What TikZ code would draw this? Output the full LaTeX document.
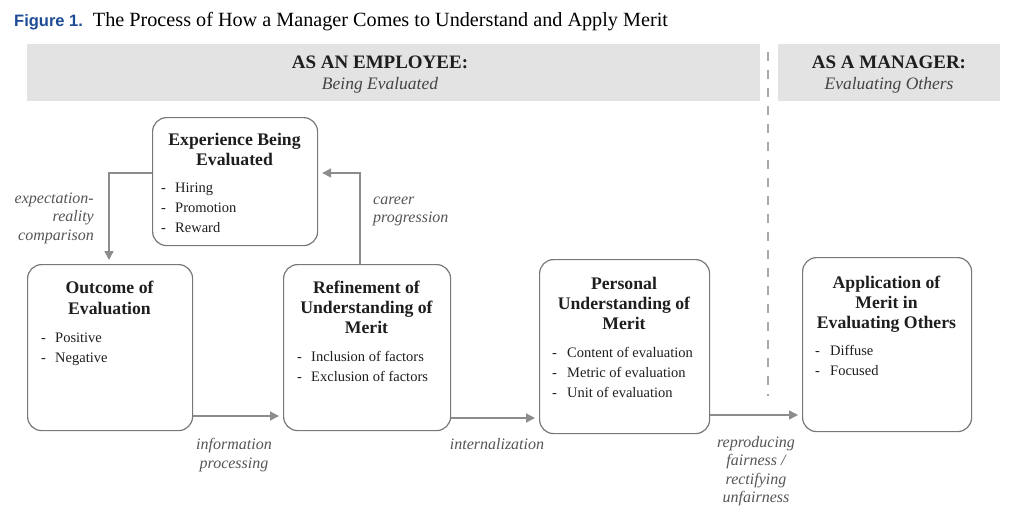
\documentclass[tikz,border=0pt]{standalone}
\usepackage{fontspec}
\setmainfont{Liberation Serif}
\newfontfamily\figsans{Liberation Sans}
\usetikzlibrary{arrows.meta}
\definecolor{figblue}{RGB}{30,75,150}
\definecolor{bandgray}{RGB}{227,227,227}
\definecolor{boxline}{RGB}{120,120,120}
\definecolor{arrowgray}{RGB}{140,140,140}
\definecolor{labelgray}{RGB}{85,85,85}
\definecolor{textdark}{RGB}{30,30,30}
\tikzset{
  x=1pt, y=-1pt,
  band/.style={fill=bandgray, draw=none},
  procbox/.style={draw=boxline, line width=1.2pt, rounded corners=14pt, anchor=north west, inner sep=0pt},
  boxtitle/.style={font=\bfseries\fontsize{17.7}{20.5}\selectfont, text=textdark, anchor=base, inner sep=0pt},
  item/.style={font=\fontsize{14.5}{20}\selectfont, text=textdark, anchor=base west, inner sep=0pt},
  dashitem/.style={font=\fontsize{14.5}{20}\selectfont, text=textdark, anchor=base west, inner sep=0pt},
  lbl/.style={font=\itshape\fontsize{16}{18.5}\selectfont, text=labelgray, inner sep=0pt},
  flow/.style={draw=arrowgray, line width=1.4pt, -{Triangle[length=9pt,width=9pt]}, shorten >=4pt},
  headbig/.style={font=\bfseries\fontsize{19}{20}\selectfont, text=textdark, anchor=base, inner sep=0pt},
  headsub/.style={font=\itshape\fontsize{17.5}{20}\selectfont, text=labelgray!80!black, anchor=base, inner sep=0pt},
}
\begin{document}
\begin{tikzpicture}
\useasboundingbox (0,0) rectangle (1012,522);
% title
\node[anchor=base west, inner sep=0pt] (title) at (14,27)
  {{\figsans\bfseries\fontsize{16.5}{18}\selectfont\color{figblue}Figure 1.}\hspace{10pt}{\fontsize{20.2}{22}\selectfont The Process of How a Manager Comes to Understand and Apply Merit}};
% bands
\fill[band] (27,44) rectangle (760,101);
\fill[band] (778,44) rectangle (1000,101);
\node[headbig] (h1) at (380,68) {AS AN EMPLOYEE:};
\node[headsub] (h1s) at (380,89) {Being Evaluated};
\node[headbig] (h2) at (889,68) {AS A MANAGER:};
\node[headsub] (h2s) at (889,89) {Evaluating Others};
% dashed divider
\coordinate (dtop) at (768,52);
\coordinate (dbot) at (768,396);
\draw[draw=arrowgray!75, line width=2.4pt, dash pattern=on 9pt off 9pt] (dtop) -- (dbot);
% boxes
\node[procbox, minimum width=165pt, minimum height=128pt] (exp) at (152,117) {};
\node[procbox, minimum width=165pt, minimum height=166pt] (out) at (27,264) {};
\node[procbox, minimum width=167pt, minimum height=166pt] (ref) at (283,264) {};
\node[procbox, minimum width=170pt, minimum height=174pt] (per) at (539,259) {};
\node[procbox, minimum width=169pt, minimum height=174pt] (app) at (802,257) {};
% Experience
\node[boxtitle] (expt1) at (234.5,145) {Experience Being};
\node[boxtitle] (expt2) at (234.5,165) {Evaluated};
\foreach \t [count=\i] in {Hiring,Promotion,Reward}{
  \node[dashitem] (expd\i) at (161,172+20*\i) {-};
  \node[item] (expi\i) at (175,172+20*\i) {\t};
}
% Outcome
\node[boxtitle] (outt1) at (109.5,293) {Outcome of};
\node[boxtitle] (outt2) at (109.5,314) {Evaluation};
\foreach \t [count=\i] in {Positive,Negative}{
  \node[dashitem] (outd\i) at (41,322+20*\i) {-};
  \node[item] (outi\i) at (55,322+20*\i) {\t};
}
% Refinement
\node[boxtitle] (reft1) at (366.5,293) {Refinement of};
\node[boxtitle] (reft2) at (366.5,313) {Understanding of};
\node[boxtitle] (reft3) at (366.5,333) {Merit};
\foreach \t [count=\i] in {Inclusion of factors,Exclusion of factors}{
  \node[dashitem] (refd\i) at (297,341+20*\i) {-};
  \node[item] (refi\i) at (311,341+20*\i) {\t};
}
% Personal
\node[boxtitle] (pert1) at (624,289) {Personal};
\node[boxtitle] (pert2) at (624,309) {Understanding of};
\node[boxtitle] (pert3) at (624,329) {Merit};
\foreach \t [count=\i] in {Content of evaluation,Metric of evaluation,Unit of evaluation}{
  \node[dashitem] (perd\i) at (552,337+20*\i) {-};
  \node[item] (peri\i) at (567,337+20*\i) {\t};
}
% Application
\node[boxtitle] (appt1) at (886.5,288) {Application of};
\node[boxtitle] (appt2) at (886.5,308) {Merit in};
\node[boxtitle] (appt3) at (886.5,328) {Evaluating Others};
\foreach \t [count=\i] in {Diffuse,Focused}{
  \node[dashitem] (appd\i) at (815,336+19.5*\i) {-};
  \node[item] (appi\i) at (830,336+19.5*\i) {\t};
}
% connectors
\coordinate (c1) at (109,173);
\coordinate (c2) at (360,173);
\draw[flow] (exp.west |- c1) -- (c1) -- (c1 |- out.north);
\draw[flow] (c2 |- ref.north) -- (c2) -- (exp.east |- c2);
\coordinate (r1) at (0,416);
\coordinate (r2) at (0,418);
\coordinate (r3) at (0,415);
\draw[flow] (out.east |- r1) -- (ref.west |- r1);
\draw[flow] (ref.east |- r2) -- (per.west |- r2);
\draw[flow] (per.east |- r3) -- (app.west |- r3);
% labels
\node[lbl, anchor=base east] (l1a) at (94,203) {expectation-};
\node[lbl, anchor=base east] (l1b) at (94,221) {reality};
\node[lbl, anchor=base east] (l1c) at (94,240) {comparison};
\node[lbl, anchor=base west] (l2a) at (373,204) {career};
\node[lbl, anchor=base west] (l2b) at (373,222) {progression};
\node[lbl, anchor=base] (l3a) at (234,449) {information};
\node[lbl, anchor=base] (l3b) at (234,468) {processing};
\node[lbl, anchor=base] (l4) at (497,449) {internalization};
\node[lbl, anchor=base] (l5a) at (756,447) {reproducing};
\node[lbl, anchor=base] (l5b) at (756,465) {fairness /};
\node[lbl, anchor=base] (l5c) at (756,484) {rectifying};
\node[lbl, anchor=base] (l5d) at (756,502) {unfairness};
\end{tikzpicture}
\end{document}
